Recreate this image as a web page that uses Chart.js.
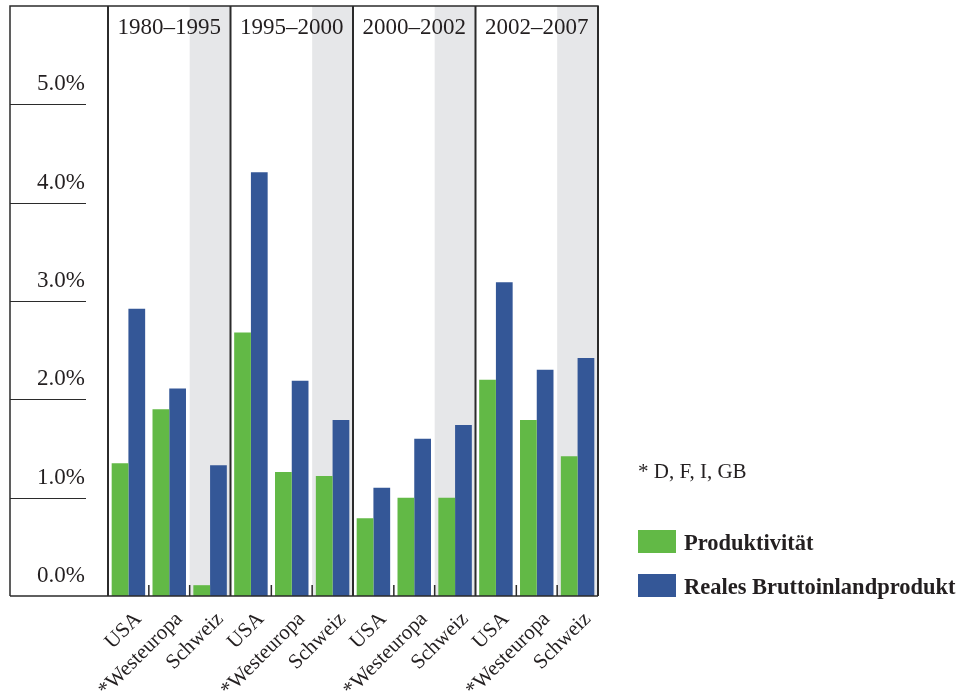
<!DOCTYPE html>
<html lang="de">
<head>
<meta charset="utf-8">
<script src="https://cdn.jsdelivr.net/npm/chart.js"></script>
<style>
  html, body { margin: 0; padding: 0; background: #fff; }
</style>
</head>
<body>
<canvas id="graphique" width="975" height="692"></canvas>
<script>
// Daten
const zeitraeume = ['1980–1995', '1995–2000', '2000–2002', '2002–2007'];
const laender = ['USA', '*Westeuropa', 'Schweiz', 'USA', '*Westeuropa', 'Schweiz',
                 'USA', '*Westeuropa', 'Schweiz', 'USA', '*Westeuropa', 'Schweiz'];
const produktivitaet = [1.35, 1.90, 0.11, 2.68, 1.26, 1.22, 0.79, 1.00, 1.00, 2.20, 1.79, 1.42];
const bip = [2.92, 2.11, 1.33, 4.31, 2.19, 1.79, 1.10, 1.60, 1.74, 3.19, 2.30, 2.42];
const yTicks = [0, 1, 2, 3, 4, 5];
const fussnote = '* D, F, I, GB';

const SERIF = '"Liberation Serif", "DejaVu Serif", serif';
const TEXT = '#231f20';
const LINIE = '#2b2b2b';

// Rahmen, Schattierung, Überschriften und Legende
const rahmen = {
  id: 'rahmen',
  beforeDatasetsDraw(chart) {
    const ctx = chart.ctx, x = chart.scales.x, a = chart.chartArea;
    const half = (x.getPixelForValue(1) - x.getPixelForValue(0)) / 2;
    ctx.save();
    ctx.fillStyle = '#e6e7e9';
    laender.forEach((l, i) => {
      if (i % 3 === 2) {
        const px = x.getPixelForValue(i);
        ctx.fillRect(px - half, a.top, half * 2, a.bottom - a.top);
      }
    });
    ctx.restore();
  },
  afterDatasetsDraw(chart) {
    const ctx = chart.ctx, x = chart.scales.x, y = chart.scales.y, a = chart.chartArea;
    const half = (x.getPixelForValue(1) - x.getPixelForValue(0)) / 2;
    const links = y.left;
    ctx.save();
    ctx.strokeStyle = LINIE;

    // äusserer Rahmen
    ctx.lineWidth = 1.5;
    ctx.beginPath();
    ctx.moveTo(links, a.bottom); ctx.lineTo(links, a.top);
    ctx.lineTo(a.right, a.top); ctx.lineTo(a.right, a.bottom);
    ctx.moveTo(links, a.bottom); ctx.lineTo(a.right, a.bottom);
    ctx.stroke();

    // y-Markierungen links
    ctx.lineWidth = 1.2;
    yTicks.forEach(v => {
      if (v === 0) return;
      const py = Math.round(y.getPixelForValue(v)) + 0.5;
      ctx.beginPath();
      ctx.moveTo(links, py); ctx.lineTo(86, py);
      ctx.stroke();
    });

    // Trennlinien der Zeiträume
    ctx.lineWidth = 2;
    ctx.beginPath();
    ctx.moveTo(a.left, a.top); ctx.lineTo(a.left, a.bottom);
    laender.forEach((l, i) => {
      const gx = x.getPixelForValue(i) + half;
      if (i % 3 === 2) {
        ctx.moveTo(gx, a.top); ctx.lineTo(gx, a.bottom);
      }
    });
    ctx.stroke();

    // kleine Striche zwischen Ländern
    ctx.lineWidth = 1.5;
    ctx.beginPath();
    laender.forEach((l, i) => {
      if (i % 3 !== 2) {
        const gx = x.getPixelForValue(i) + half;
        ctx.moveTo(gx, a.bottom - 11); ctx.lineTo(gx, a.bottom);
      }
    });
    ctx.stroke();

    // Überschriften
    ctx.fillStyle = TEXT;
    ctx.font = '23px ' + SERIF;
    ctx.textAlign = 'center';
    ctx.textBaseline = 'middle';
    zeitraeume.forEach((z, k) => {
      const x0 = k === 0 ? a.left : x.getPixelForValue(k * 3 - 1) + half;
      const x1 = x.getPixelForValue(k * 3 + 2) + half;
      ctx.fillText(z, (x0 + x1) / 2, 28);
    });

    // Fussnote und Legende
    ctx.textAlign = 'left';
    ctx.font = '21px ' + SERIF;
    ctx.fillText(fussnote, 638, 472);
    ctx.font = 'bold 22.5px ' + SERIF;
    chart.data.datasets.forEach((ds, j) => {
      const top = 530 + j * 44;
      ctx.fillStyle = ds.backgroundColor;
      ctx.fillRect(638, top, 38, 23);
      ctx.fillStyle = TEXT;
      ctx.fillText(ds.label, 684, top + 14);
    });
    ctx.restore();
  }
};

new Chart(document.getElementById('graphique'), {
  type: 'bar',
  data: {
    labels: laender,
    datasets: [{
      label: 'Produktivität',
      data: produktivitaet,
      backgroundColor: '#62b946',
      borderWidth: 0
    }, {
      label: 'Reales Bruttoinlandprodukt',
      data: bip,
      backgroundColor: '#345797',
      borderWidth: 0
    }]
  },
  options: {
    responsive: false,
    devicePixelRatio: 1,
    animation: false,
    categoryPercentage: 0.82,
    barPercentage: 1.0,
    layout: { padding: { left: 10, top: 6, right: 377, bottom: 0 } },
    plugins: {
      legend: { display: false },
      tooltip: { enabled: false }
    },
    scales: {
      x: {
        grid: { display: false },
        border: { display: false },
        ticks: {
          maxRotation: 45,
          minRotation: 45,
          autoSkip: false,
          labelOffset: 10,
          color: TEXT,
          font: { family: SERIF, size: 21 }
        },
        afterFit(scale) {
          scale.height = 96;
          scale.paddingLeft = 0;
          scale.paddingRight = 0;
        }
      },
      y: {
        min: 0,
        max: 6,
        grid: { display: false },
        border: { display: false },
        afterBuildTicks(scale) { scale.ticks = yTicks.map(v => ({ value: v })); },
        ticks: {
          padding: 15,
          labelOffset: -20,
          color: TEXT,
          font: { family: SERIF, size: 23 },
          callback: v => v.toFixed(1) + '%'
        },
        afterFit(scale) {
          scale.width = 98;
          scale.paddingTop = 0;
          scale.paddingBottom = 0;
        }
      }
    }
  },
  plugins: [rahmen]
});
</script>
</body>
</html>
